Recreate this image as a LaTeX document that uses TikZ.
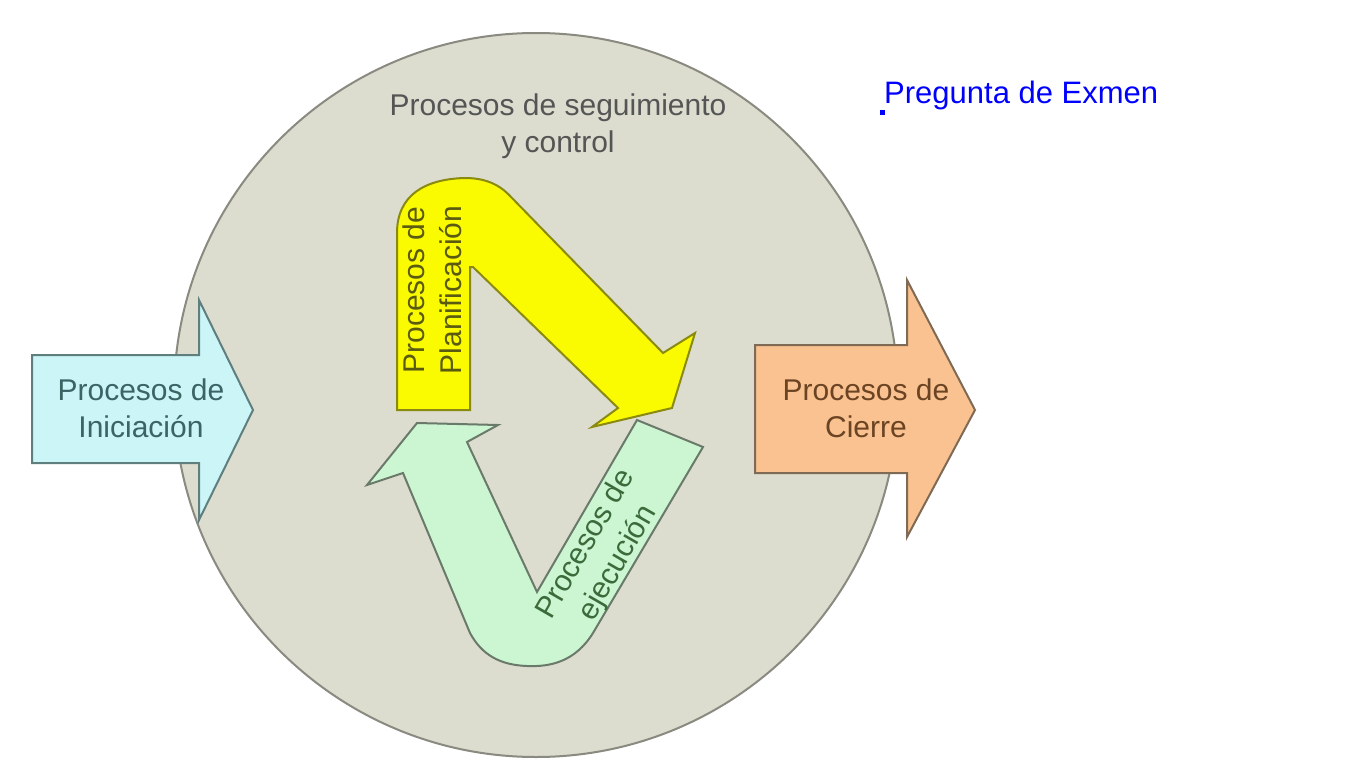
\documentclass[tikz,border=0pt]{standalone}
\usepackage{fontspec}
\setmainfont{Liberation Sans}
\definecolor{circfill}{HTML}{DCDDCF}
\definecolor{circline}{HTML}{8A8A80}
\definecolor{cyanfill}{HTML}{CCF5F7}
\definecolor{cyanline}{HTML}{5F7F7F}
\definecolor{cyantext}{HTML}{3B6464}
\definecolor{orfill}{HTML}{F9C290}
\definecolor{orline}{HTML}{7F6A55}
\definecolor{ortext}{HTML}{6B4423}
\definecolor{yelfill}{HTML}{FAFA00}
\definecolor{yelline}{HTML}{8A8A10}
\definecolor{yeltext}{HTML}{5A5A10}
\definecolor{grnfill}{HTML}{CCF5D2}
\definecolor{grnline}{HTML}{6A7A6A}
\definecolor{grntext}{HTML}{3B6B3B}
\definecolor{toptext}{HTML}{555555}
\tikzset{
  shp/.style={line width=2pt, line join=miter},
  lbl/.style={align=center, inner sep=0pt, font=\fontsize{30}{37}\selectfont},
}
\begin{document}
\begin{tikzpicture}[x=1pt,y=-1pt]
\useasboundingbox (0,0) rectangle (1360,768);
\fill[white] (0,0) rectangle (1360,768);
% circle
\node[circle, draw=circline, fill=circfill, line width=2pt, minimum size=724pt, inner sep=0pt] (circ) at (536,395) {};
\node[lbl, text=toptext] (ctrl) at (558,126) {Procesos de seguimiento\\y control};
% green U arrow
\draw[shp, draw=grnline, fill=grnfill] (367,485) -- (417,423) -- (498,425) -- (467,442) -- (537,592) -- (637,420) -- (703,447) -- (593,633)
  .. controls (575,662) and (550,667) .. (527,666) .. controls (500,665) and (482,655) .. (470,633) -- (403,473) -- cycle;
\node[lbl, text=grntext, rotate=60] (ejec) at (602,554) {Procesos de\\ejecución};
% yellow bent arrow
\draw[shp, draw=yelline, fill=yelfill] (397,410) -- (397,233) .. controls (397,195) and (425,179) .. (465,178)
  .. controls (490,178) and (503,188) .. (512,198) -- (663,353) -- (695,333) -- (672,408) -- (592,427) -- (618,408) -- (473,267) -- (470,267) -- (470,410) -- cycle;
\node[lbl, text=yeltext, rotate=90] (plan) at (432,290) {Procesos de\\Planificación};
% left arrow
\draw[shp, draw=cyanline, fill=cyanfill] (32,355) -- (199,355) -- (199,300) -- (253,410) -- (199,520) -- (199,463) -- (32,463) -- cycle;
\node[lbl, text=cyantext] (inic) at (141,408) {Procesos de\\Iniciación};
% right arrow
\draw[shp, draw=orline, fill=orfill] (755,345) -- (907,345) -- (907,280) -- (975,410) -- (907,537) -- (907,473) -- (755,473) -- cycle;
\node[lbl, text=ortext] (cier) at (866,408) {Procesos de\\Cierre};
% blue label
\node[anchor=base west, inner sep=0pt, text=blue, font=\fontsize{31}{37}\selectfont] (preg) at (884,103) {Pregunta de Exmen};
\fill[blue] (880,110) rectangle (885,115);
\end{tikzpicture}
\end{document}
